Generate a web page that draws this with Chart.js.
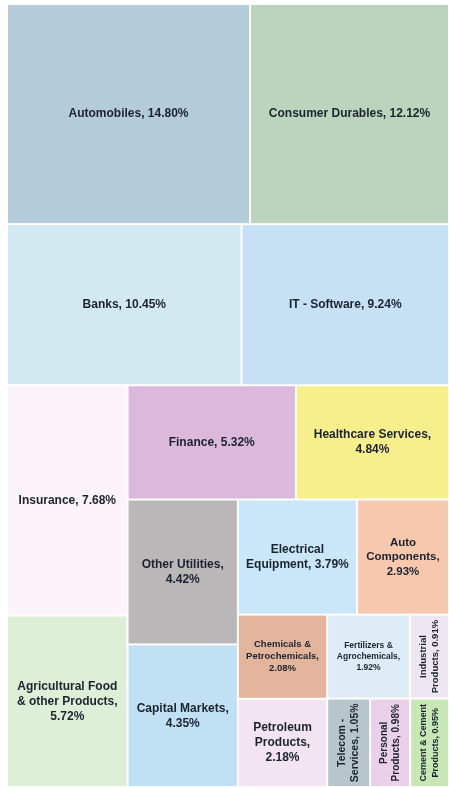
<!DOCTYPE html>
<html>
<head>
<meta charset="utf-8">
<script src="https://cdn.jsdelivr.net/npm/chart.js@4.4.1/dist/chart.umd.min.js"></script>
<style>
  html, body { margin: 0; padding: 0; background: #ffffff; }
  .chart-container { position: relative; width: 449px; height: 787px; }
</style>
</head>
<body>
<div class="chart-container">
  <canvas id="sectorTreemap"></canvas>
</div>
<script>
// sector weights, in the order the treemap places them
const categories = [
  "Automobiles", "Consumer Durables", "Banks", "IT - Software", "Insurance",
  "Agricultural Food & other Products", "Finance", "Healthcare Services",
  "Other Utilities", "Capital Markets", "Electrical Equipment", "Auto Components",
  "Chemicals & Petrochemicals", "Petroleum Products", "Fertilizers & Agrochemicals",
  "Industrial Products", "Telecom - Services", "Personal Products",
  "Cement & Cement Products",
];
const weights = [
  14.80, 12.12, 10.45, 9.24, 7.68,
  5.72, 5.32, 4.84,
  4.42, 4.35, 3.79, 2.93,
  2.08, 2.18, 1.92,
  0.91, 1.05, 0.98,
  0.95,
];
const cellColors = [
  "#b4cbd9", "#bcd4bc", "#d3e9f1", "#c6e0f4", "#fcf4f9",
  "#ddefd6", "#dbb8dc", "#f6ef8c",
  "#b9b7b8", "#bfe1f3", "#c9e7f8", "#f6c8ad",
  "#e2b59c", "#f3e4f3", "#deecf8",
  "#eee6f3", "#b7c6cc", "#ead0e8",
  "#c7e8b5",
];
// how many cells go in each strip, and whether the strip runs across (row) or down (col)
const stripSizes = [2, 2, 2, 2, 2, 2, 2, 2, 3];
const stripDirs = ["row", "row", "col", "row", "col", "row", "col", "row", "row"];

// strip layout in data units (0..1 on both axes, y measured from the top)
function layoutCells() {
  const cells = [];
  let rect = { x: 0, y: 0, w: 1, h: 1 };
  let remaining = weights.reduce((a, b) => a + b, 0);
  let idx = 0;
  stripSizes.forEach((n, s) => {
    const items = weights.slice(idx, idx + n);
    const sum = items.reduce((a, b) => a + b, 0);
    const frac = sum / remaining;
    if (stripDirs[s] === "row") {
      const sh = rect.h * frac;
      let cx = rect.x;
      items.forEach((v, k) => {
        const cw = rect.w * v / sum;
        cells.push({ i: idx + k, x0: cx, x1: cx + cw, y0: rect.y, y1: rect.y + sh });
        cx += cw;
      });
      rect = { x: rect.x, y: rect.y + sh, w: rect.w, h: rect.h - sh };
    } else {
      const sw = rect.w * frac;
      let cy = rect.y;
      items.forEach((v, k) => {
        const ch = rect.h * v / sum;
        cells.push({ i: idx + k, x0: rect.x, x1: rect.x + sw, y0: cy, y1: cy + ch });
        cy += ch;
      });
      rect = { x: rect.x + sw, y: rect.y, w: rect.w - sw, h: rect.h };
    }
    remaining -= sum;
    idx += n;
  });
  return cells;
}

function wrapWords(ctx, text, maxW) {
  const words = text.split(" ");
  const lines = [];
  let line = "";
  words.forEach((w) => {
    const test = line ? line + " " + w : w;
    if (!line || ctx.measureText(test).width <= maxW) {
      line = test;
    } else {
      lines.push(line);
      line = w;
    }
  });
  if (line) lines.push(line);
  return lines;
}

function drawLabel(ctx, text, left, top, w, h) {
  const rotate = w < 46 && h > w;
  const availW = rotate ? h - 8 : w - 16.2;
  const availH = (rotate ? w : h) - 6;
  let size = 12;
  let lines = [];
  for (; size >= 6; size -= 0.5) {
    ctx.font = `bold ${size}px "Liberation Sans", Arial, sans-serif`;
    lines = wrapWords(ctx, text, availW);
    const widest = Math.max(...lines.map((l) => ctx.measureText(l).width));
    if (widest <= availW && lines.length * size * 1.25 <= availH) break;
  }
  const lh = size * 1.25;
  ctx.save();
  ctx.translate(left + w / 2, top + h / 2);
  if (rotate) ctx.rotate(-Math.PI / 2);
  ctx.fillStyle = "#1c2330";
  ctx.textAlign = "center";
  ctx.textBaseline = "middle";
  lines.forEach((l, k) => {
    ctx.fillText(l, 0, (k - (lines.length - 1) / 2) * lh);
  });
  ctx.restore();
}

const treemapCells = {
  id: "treemapCells",
  beforeDatasetsDraw(chart) {
    const { ctx, scales } = chart;
    const x = scales.x;
    const y = scales.y;
    layoutCells().forEach((c) => {
      const left = x.getPixelForValue(c.x0);
      const right = x.getPixelForValue(c.x1);
      const top = y.getPixelForValue(c.y0);
      const bottom = y.getPixelForValue(c.y1);
      const w = right - left;
      const h = bottom - top;
      ctx.fillStyle = cellColors[c.i];
      ctx.fillRect(left + 1, top + 1, w - 2, h - 2);
      const label = `${categories[c.i]}, ${weights[c.i].toFixed(2)}%`;
      drawLabel(ctx, label, left, top, w, h);
    });
  },
};

const canvas = document.getElementById("sectorTreemap");
new Chart(canvas, {
  type: "scatter",
  data: { datasets: [{ label: "Sectors", data: [], pointRadius: 0 }] },
  options: {
    responsive: true,
    maintainAspectRatio: false,
    animation: false,
    layout: { padding: { left: 7, top: 4, right: 0, bottom: 0 } },
    scales: {
      x: { type: "linear", min: 0, max: 1, display: false },
      y: { type: "linear", min: 0, max: 1, reverse: true, display: false },
    },
    plugins: {
      legend: { display: false },
      tooltip: { enabled: false },
    },
  },
  plugins: [treemapCells],
});
</script>
</body>
</html>
